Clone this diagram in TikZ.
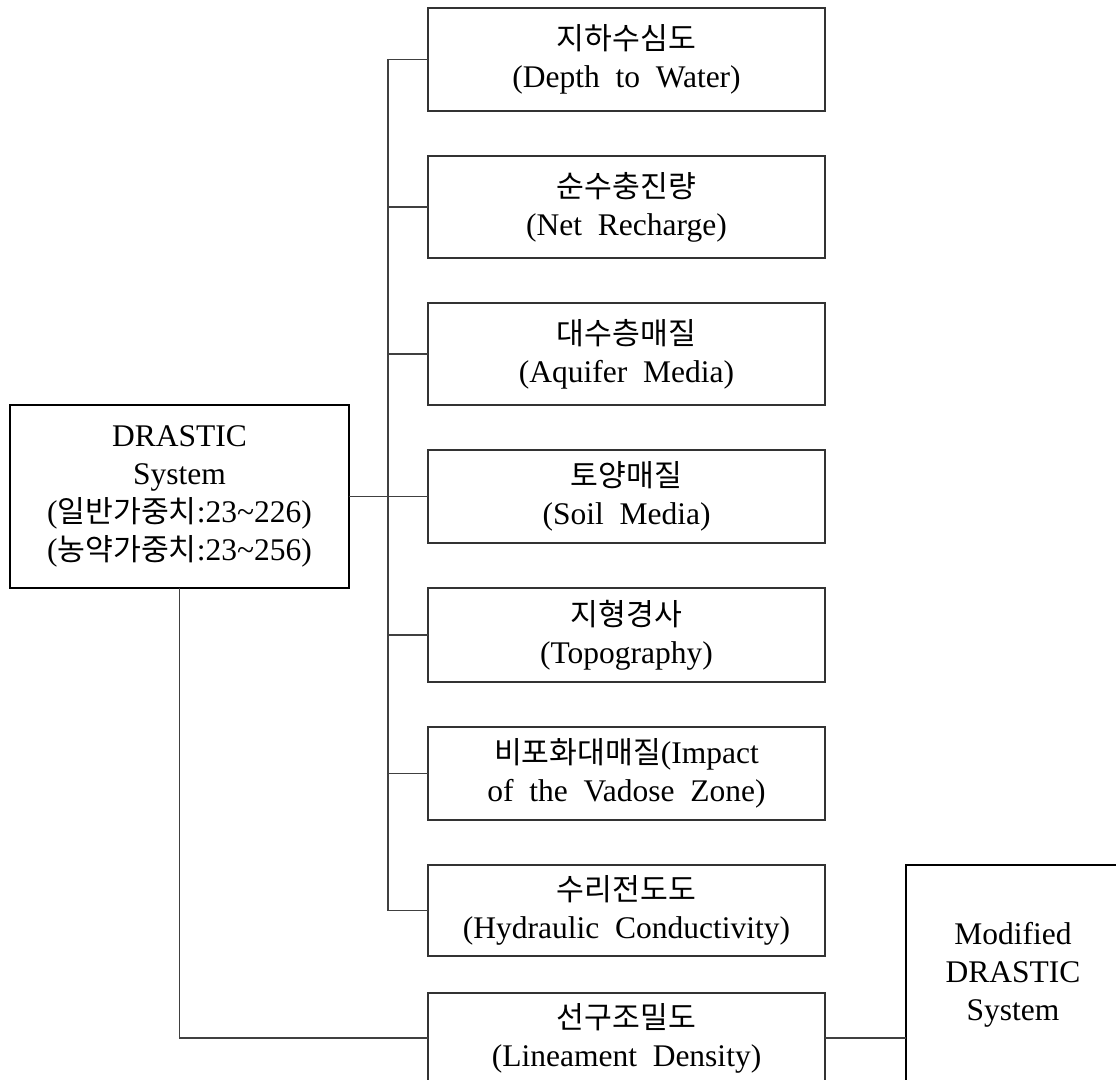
\documentclass[tikz,border=0pt]{standalone}
\usepackage{fontspec}
\setmainfont{Liberation Serif}[WordSpace=2.0]
\newfontfamily\kr{Noto Sans CJK KR}[Scale=0.96]
\begin{document}
\begin{tikzpicture}[x=1pt,y=-1pt,
  every node/.style={inner sep=0pt, outer sep=0pt, align=center, font=\fontsize{31.5}{38}\selectfont},
  itembox/.style={draw=black!80, line width=1.3pt, minimum width=397pt},
  mainbox/.style={draw=black, line width=2.6pt},
  conn/.style={draw=black!75, line width=1.3pt}]
\clip (0,0) rectangle (1116,1079);
\fill[white] (0,0) rectangle (1116,1079);
\node[mainbox, minimum width=339pt, minimum height=183pt] (drastic) at (179.5,496.5)
  {DRASTIC\\System\\({\kr 일반가중치}:23\textasciitilde 226)\\({\kr 농약가중치}:23\textasciitilde 256)};
\node[itembox, minimum height=103pt] (depth) at (626.5,59.5) {{\kr 지하수심도}\\(Depth to Water)};
\node[itembox, minimum height=102pt] (net) at (626.5,207) {{\kr 순수충진량}\\(Net Recharge)};
\node[itembox, minimum height=102pt] (aquifer) at (626.5,354) {{\kr 대수층매질}\\(Aquifer Media)};
\node[itembox, minimum height=93pt] (soil) at (626.5,496.5) {{\kr 토양매질}\\(Soil Media)};
\node[itembox, minimum height=94pt] (topo) at (626.5,635) {{\kr 지형경사}\\(Topography)};
\node[itembox, minimum height=93pt] (impact) at (626.5,773.5) {{\kr 비포화대매질}(Impact\\of the Vadose Zone)};
\node[itembox, minimum height=91pt] (hydro) at (626.5,910.5) {{\kr 수리전도도}\\(Hydraulic Conductivity)};
\node[itembox, minimum height=90pt] (linea) at (626.5,1038) {{\kr 선구조밀도}\\(Lineament Density)};
\node[mainbox, minimum width=214pt, minimum height=220pt] (modified) at (1013,975)
  {Modified\\DRASTIC\\System};
\coordinate (trunk) at (388,0);
\draw[conn] (depth.west) -- (depth.west -| trunk) -- (hydro.west -| trunk) -- (hydro.west);
\draw[conn] (net.west) -- (net.west -| trunk);
\draw[conn] (aquifer.west) -- (aquifer.west -| trunk);
\draw[conn] (topo.west) -- (topo.west -| trunk);
\draw[conn] (impact.west) -- (impact.west -| trunk);
\draw[conn] (drastic.east) -- (soil.west);
\draw[conn] (drastic.south) |- (linea.west);
\draw[conn] (linea.east) -- (linea.east -| modified.west);
\end{tikzpicture}
\end{document}
